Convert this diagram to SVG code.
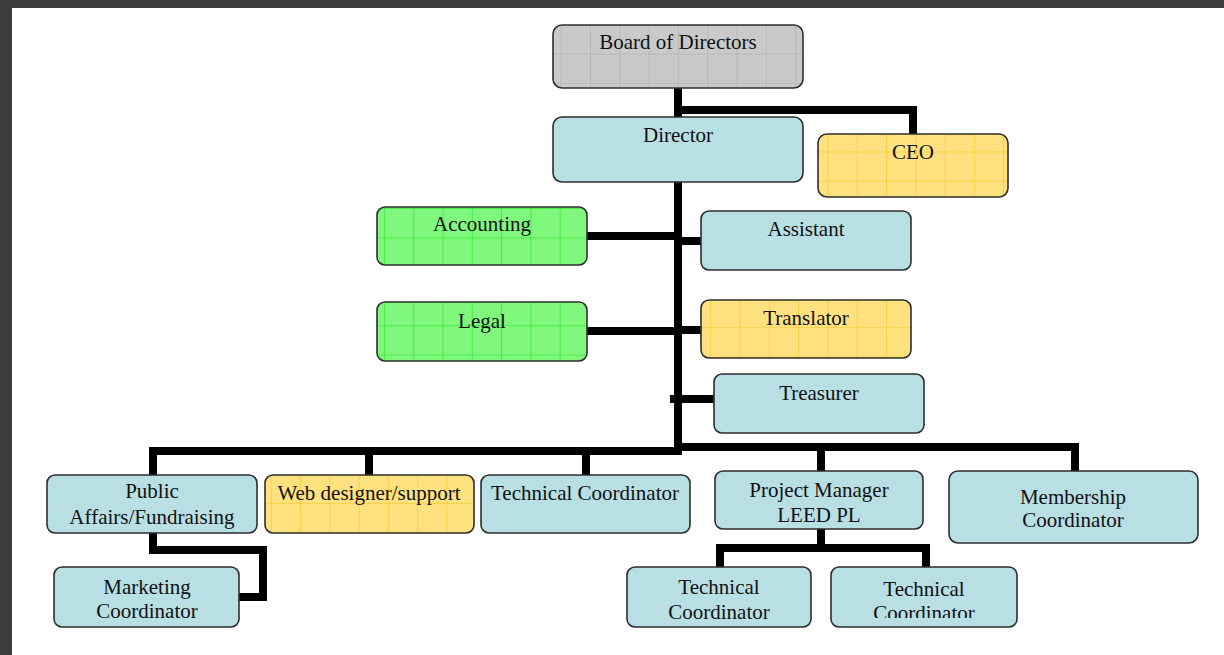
<svg xmlns="http://www.w3.org/2000/svg" width="1224" height="655" viewBox="0 0 1224 655">
<style>
.bx{stroke:#2e2e2e;stroke-width:1.6}
.blue{fill:#b8dfe3}
.gray{fill:url(#gGray)}
.yel{fill:url(#gYel)}
.grn{fill:url(#gGrn)}
.t{font-family:"Liberation Serif","Times New Roman",serif;font-size:21px;fill:#111;text-anchor:middle}
.c{fill:none;stroke:#000;stroke-width:8;stroke-linejoin:miter;stroke-linecap:butt}
</style>
<defs>
<pattern id="gGray" patternUnits="userSpaceOnUse" width="29.3" height="29.3" x="4" y="-5">
<rect width="29.3" height="29.3" fill="#c9c9c9"/>
<path d="M0 0H29.3M0 0V29.3" stroke="#a9a9a9" stroke-width="1" fill="none"/>
</pattern>
<pattern id="gYel" patternUnits="userSpaceOnUse" width="29.3" height="29.3" x="7" y="5">
<rect width="29.3" height="29.3" fill="#ffe27f"/>
<path d="M0 0H29.3M0 0V29.3" stroke="#f2c20e" stroke-width="1" fill="none"/>
</pattern>
<pattern id="gGrn" patternUnits="userSpaceOnUse" width="29.3" height="29.3" x="3" y="3">
<rect width="29.3" height="29.3" fill="#80f87e"/>
<path d="M0 0H29.3M0 0V29.3" stroke="#18e018" stroke-width="1" fill="none"/>
</pattern>
<clipPath id="clipTC3"><rect x="831" y="567" width="186" height="51"/></clipPath>
</defs>
<rect width="1224" height="655" fill="#3c3c3c"/>
<rect x="12" y="8" width="1212" height="647" fill="#ffffff"/>

<g id="connectors">
<path class="c" d="M678 88V117"/>
<path class="c" d="M678 110H913V134"/>
<path class="c" d="M678 182V455"/>
<path class="c" d="M587 236H678"/>
<path class="c" d="M678 241H701"/>
<path class="c" d="M587 331H678"/>
<path class="c" d="M678 330H701"/>
<path class="c" d="M670 399H714"/>
<path class="c" d="M153 475V451H682"/>
<path class="c" d="M369 451V475"/>
<path class="c" d="M586 451V475"/>
<path class="c" d="M678 447H1075V471"/>
<path class="c" d="M821 447V471"/>
<path class="c" d="M153 533V550H263V597H239"/>
<path class="c" d="M821 529V548"/>
<path class="c" d="M720 567V548H926V567"/>
</g>

<g id="board"><rect class="bx gray" x="553" y="25" width="250" height="63" rx="9"/><text class="t" x="678" y="49">Board of Directors</text></g>
<g id="director"><rect class="bx blue" x="553" y="117" width="250" height="65" rx="9"/><text class="t" x="678" y="142">Director</text></g>
<g id="ceo"><rect class="bx yel" x="818" y="134" width="190" height="63" rx="9"/><text class="t" x="913" y="159">CEO</text></g>
<g id="accounting"><rect class="bx grn" x="377" y="207" width="210" height="58" rx="8"/><text class="t" x="482" y="231">Accounting</text></g>
<g id="assistant"><rect class="bx blue" x="701" y="211" width="210" height="59" rx="8"/><text class="t" x="806" y="236">Assistant</text></g>
<g id="legal"><rect class="bx grn" x="377" y="302" width="210" height="59" rx="8"/><text class="t" x="482" y="328">Legal</text></g>
<g id="translator"><rect class="bx yel" x="701" y="300" width="210" height="58" rx="8"/><text class="t" x="806" y="325">Translator</text></g>
<g id="treasurer"><rect class="bx blue" x="714" y="374" width="210" height="59" rx="8"/><text class="t" x="819" y="400">Treasurer</text></g>
<g id="public"><rect class="bx blue" x="47" y="475" width="210" height="58" rx="8"/><text class="t" x="152" y="498">Public</text><text class="t" x="152" y="524">Affairs/Fundraising</text></g>
<g id="web"><rect class="bx yel" x="265" y="475" width="209" height="58" rx="8"/><text class="t" x="369" y="500">Web designer/support</text></g>
<g id="techcoord1"><rect class="bx blue" x="481" y="475" width="209" height="58" rx="8"/><text class="t" x="585" y="500">Technical Coordinator</text></g>
<g id="pm"><rect class="bx blue" x="715" y="471" width="208" height="58" rx="8"/><text class="t" x="819" y="497">Project Manager</text><text class="t" x="819" y="522">LEED PL</text></g>
<g id="membership"><rect class="bx blue" x="949" y="471" width="249" height="72" rx="9"/><text class="t" x="1073" y="504">Membership</text><text class="t" x="1073" y="527">Coordinator</text></g>
<g id="marketing"><rect class="bx blue" x="54" y="567" width="185" height="60" rx="8"/><text class="t" x="147" y="594">Marketing</text><text class="t" x="147" y="618">Coordinator</text></g>
<g id="techcoord2"><rect class="bx blue" x="627" y="567" width="184" height="60" rx="8"/><text class="t" x="719" y="594">Technical</text><text class="t" x="719" y="619">Coordinator</text></g>
<g id="techcoord3"><rect class="bx blue" x="831" y="567" width="186" height="60" rx="8"/><g clip-path="url(#clipTC3)"><text class="t" x="924" y="596">Technical</text><text class="t" x="924" y="620">Coordinator</text></g></g>
</svg>
